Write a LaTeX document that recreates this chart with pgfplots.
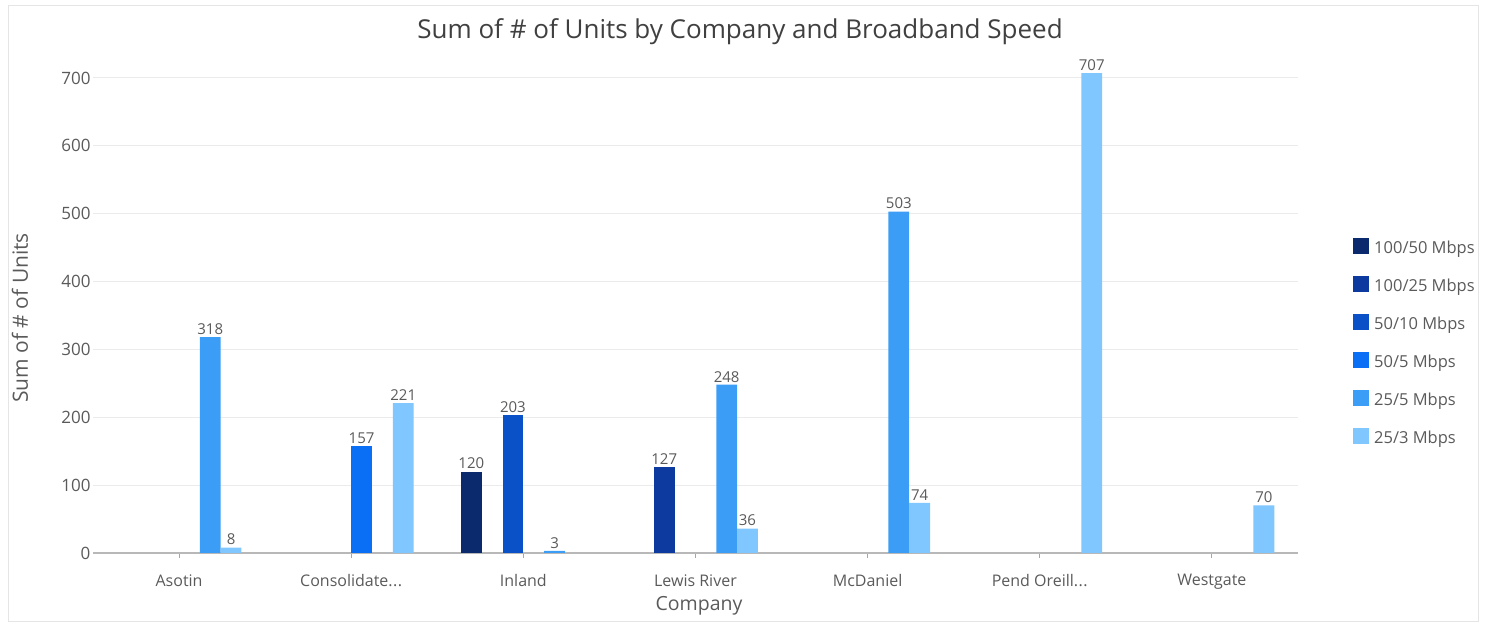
\documentclass[border=0pt]{standalone}
\usepackage{fontspec}
\setmainfont{Open Sans}
\usepackage{pgfplots}
\pgfplotsset{compat=1.18}
\definecolor{cA}{HTML}{0B2A6E}
\definecolor{cB}{HTML}{0C3A9E}
\definecolor{cC}{HTML}{0A50C6}
\definecolor{cD}{HTML}{0A6FF5}
\definecolor{cE}{HTML}{3C9DF6}
\definecolor{cF}{HTML}{80C6FF}
\definecolor{txt}{HTML}{5A5A5A}
\definecolor{ttl}{HTML}{404040}
\newcommand{\ddd}{.\kern0.5pt.\kern0.5pt.}
\begin{document}
\begin{tikzpicture}
\path[use as bounding box] (0pt,0pt) rectangle (1486pt,628pt);
\draw[color=black!10,line width=1pt] (8pt,6pt) rectangle (1478pt,622pt);
\node[font=\fontsize{26}{30}\selectfont,text=ttl] at (740pt,596pt) {Sum of \# of Units by Company and Broadband Speed};
\node[font=\fontsize{21}{24}\selectfont,text=txt,rotate=90] at (20pt,310pt) {Sum of \# of Units};
\node[font=\fontsize{19.5}{22}\selectfont,text=txt] at (699pt,22pt) {Company};
\begin{axis}[
  at={(93pt,75pt)}, anchor=south west,
  scale only axis, width=1205pt, height=485.2pt,
  xmin=-0.5, xmax=6.5, ymin=0, ymax=715,
  ybar=0pt, bar width=20.8pt,
  axis line style={draw=none},
  xtick={0,1,2,3,4,5,6}, xtick pos=bottom, ytick pos=left,
  xticklabels={Asotin,{Consolidate\ddd},Inland,Lewis River,McDaniel,{Pend Oreill\ddd},Westgate},
  ytick={0,100,200,300,400,500,600,700},
  ymajorgrids, grid style={color=black!8,line width=1pt},
  xtick style={color=black!35,line width=0.8pt},
  major tick length=5pt, tick align=outside,
  ytick style={draw=none},
  tick label style={font=\fontsize{16}{19}\selectfont,text=txt},
  xticklabel style={yshift=-13pt},
  yticklabel style={xshift=6pt,font=\fontsize{17}{20}\selectfont},
  /pgf/number format/assume math mode=true,
  nodes near coords,
  every node near coord/.append style={font=\fontsize{15}{17}\selectfont,text=txt,yshift=-1pt},
  clip=false,
  legend style={at={(1.0432,0.653)},anchor=north west,draw=none,fill=none,
    font=\fontsize{16.5}{19}\selectfont,text=txt,row sep=18pt,column sep=4pt,
    nodes={inner sep=1pt,text height=12pt,text depth=4pt}},
  legend cell align=left,
  legend image code/.code={\fill[#1,draw=none] (0pt,-5pt) rectangle (16pt,11pt);},
]
\draw[color=black!28,line width=2pt] (axis cs:-0.5,0) -- (axis cs:6.5,0);
\addplot[fill=cA,draw=none] coordinates {(2,120)};
\addplot[fill=cB,draw=none] coordinates {(3,127)};
\addplot[fill=cC,draw=none] coordinates {(2,203)};
\addplot[fill=cD,draw=none] coordinates {(1,157)};
\addplot[fill=cE,draw=none] coordinates {(0,318) (2,3) (3,248) (4,503)};
\addplot[fill=cF,draw=none] coordinates {(0,8) (1,221) (3,36) (4,74) (5,707) (6,70)};
\legend{100/50 Mbps,100/25 Mbps,50/10 Mbps,50/5 Mbps,25/5 Mbps,25/3 Mbps}
\end{axis}
\end{tikzpicture}
\end{document}
